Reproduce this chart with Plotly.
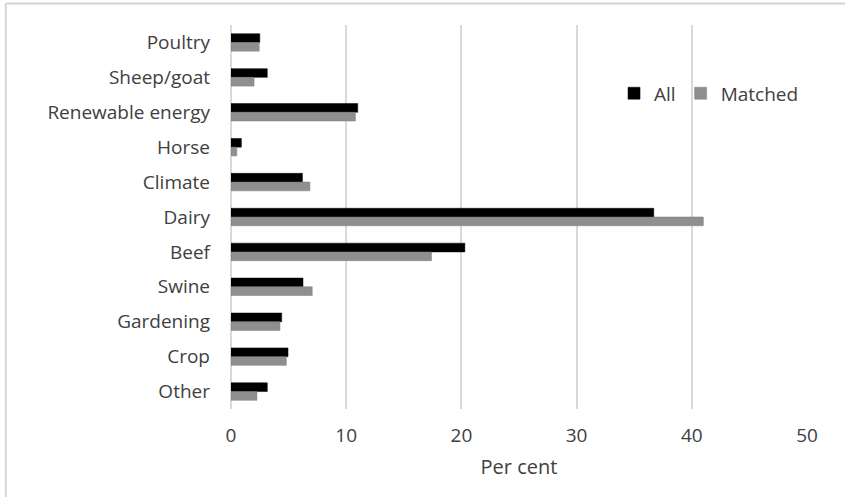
import plotly.graph_objects as go

categories = ["Poultry", "Sheep/goat", "Renewable energy", "Horse", "Climate",
              "Dairy", "Beef", "Swine", "Gardening", "Crop", "Other"]
all_vals = [2.5, 3.15, 11.0, 0.9, 6.2, 36.7, 20.3, 6.25, 4.4, 4.95, 3.15]
matched_vals = [2.45, 2.0, 10.8, 0.5, 6.85, 41.0, 17.4, 7.05, 4.25, 4.8, 2.25]
x_ticks = [0, 10, 20, 30, 40, 50]

FONT = "Open Sans"
TXT = "#404040"

fig = go.Figure()
fig.add_trace(go.Bar(y=categories, x=all_vals, name="All", orientation="h",
                     marker=dict(color="#000000", line=dict(color="#000000", width=0.5))))
fig.add_trace(go.Bar(y=categories, x=matched_vals, name="Matched", orientation="h",
                     marker=dict(color="#8f8f8f", line=dict(color="#7a7a7a", width=0.5))))

fig.update_layout(
    width=845, height=497,
    margin=dict(l=231, r=38, t=25, b=88),
    paper_bgcolor="white", plot_bgcolor="white",
    barmode="group", bargap=0.5, bargroupgap=0,
    font=dict(family=FONT, size=19, color=TXT),
    xaxis=dict(range=[0, 50], tickvals=x_ticks, showgrid=True, gridcolor="#d9d9d9",
               gridwidth=1.5, zeroline=True, zerolinecolor="#d9d9d9", zerolinewidth=1.5,
               showline=False, ticks="", ticklabelstandoff=13,
               title=dict(text="Per cent", standoff=12, font=dict(size=20)),
               tickfont=dict(size=19)),
    yaxis=dict(autorange="reversed", showgrid=False, showline=False, ticks="",
               ticklabelstandoff=20, tickfont=dict(size=19)),
    legend=dict(orientation="h", x=0.665, y=0.822, xanchor="left", yanchor="middle",
                bgcolor="rgba(0,0,0,0)", font=dict(size=19), traceorder="normal",
                itemwidth=30, tracegroupgap=0),
    shapes=[
        dict(type="rect", xref="paper", yref="paper", x0=0.67, x1=0.985, y0=0.699, y1=0.941,
             fillcolor="white", line=dict(width=0), layer="between"),
        dict(type="line", xref="paper", yref="paper", x0=-0.391, x1=1.066, y0=1.056, y1=1.056,
             line=dict(color="#d4d4d4", width=2)),
        dict(type="line", xref="paper", yref="paper", x0=-0.391, x1=-0.391, y0=1.056, y1=-0.23,
             line=dict(color="#d4d4d4", width=2)),
    ],
)

fig.write_html("out.html", config={"displayModeBar": False},
               post_script="document.body.style.margin='0';")
